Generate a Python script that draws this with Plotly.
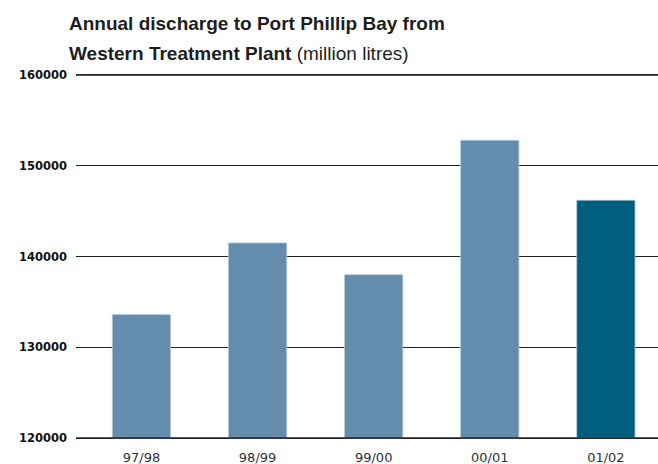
import plotly.graph_objects as go

categories = ["97/98", "98/99", "99/00", "00/01", "01/02"]
values = [133600, 141500, 138000, 152800, 146200]
colors = ["#648dad", "#648dad", "#648dad", "#648dad", "#005e7e"]
y_ticks = [120000, 130000, 140000, 150000, 160000]
baseline = y_ticks[0]

fig = go.Figure()
fig.add_trace(go.Bar(
    x=categories, y=[v - baseline for v in values], base=baseline,
    marker=dict(color=colors, line=dict(color="#b5c8d6", width=0.8)),
    width=0.502,
))

# edge gridlines (Plotly hides gridlines at the range ends)
for v in (y_ticks[0], y_ticks[-1]):
    fig.add_shape(type="line", xref="paper", yref="y", x0=0, x1=1, y0=v, y1=v,
                  line=dict(color="#222222", width=1.4), layer="above")

fig.update_layout(
    width=658, height=464,
    margin=dict(l=76, r=0, t=72, b=23),
    paper_bgcolor="white", plot_bgcolor="white",
    showlegend=False,
    xaxis=dict(
        type="category",
        range=[-0.564, 4.449],
        showgrid=False, zeroline=False, showline=False,
        ticks="",
        tickfont=dict(family="DejaVu Sans", size=13, color="#333333"),
        ticklabelstandoff=7,
    ),
    yaxis=dict(
        range=[119670, 160330],
        tickvals=y_ticks,
        ticktext=[str(v) for v in y_ticks],
        showgrid=True, gridcolor="#222222", gridwidth=1.4,
        zeroline=False, showline=False,
        ticks="",
        tickfont=dict(family="DejaVu Sans", size=11.5, color="#111111", weight="bold"),
        ticklabelstandoff=8,
    ),
    annotations=[
        dict(text="<b>Annual discharge to Port Phillip Bay from</b>",
             xref="paper", yref="paper", x=-9/582, y=1 + (72-24)/369, xanchor="left", yanchor="middle",
             showarrow=False,
             font=dict(family="Liberation Sans", size=19, color="#1e1e1e")),
        dict(text="<b>Western Treatment Plant</b> (million litres)",
             xref="paper", yref="paper", x=-9/582, y=1 + (72-54)/369, xanchor="left", yanchor="middle",
             showarrow=False,
             font=dict(family="Liberation Sans", size=19, color="#1e1e1e")),
    ],
)

fig.write_html("out.html")
